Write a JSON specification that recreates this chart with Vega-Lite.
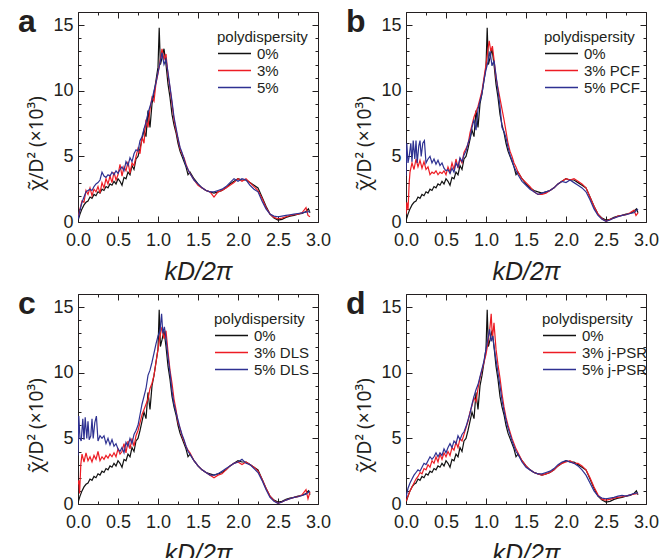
{
"$schema": "https://vega.github.io/schema/vega-lite/v6.json",
"padding": {"left": 17, "top": 5, "right": 0, "bottom": 0},
"background": "white",
"columns": 2,
"spacing": {"row": 2, "column": 13},
"resolve": {"scale": {"color": "independent"}},
"config": {
  "font": "Liberation Sans",
  "view": {"stroke": "#231f20", "strokeWidth": 1},
  "axis": {"grid": false, "domain": false, "labelFlush": false, "labelFont": "Liberation Sans", "titleFont": "Liberation Sans", "labelColor": "#231f20", "titleColor": "#231f20", "tickColor": "#231f20"},
  "legend": {"labelFont": "Liberation Sans", "titleFont": "Liberation Sans", "orient": "none", "legendX": 138, "legendY": 18, "symbolType": "M-2.2,0L2.2,0", "symbolSize": 225, "symbolOffset": 9, "symbolStrokeWidth": 1.5, "labelFontSize": 15, "titleFontSize": 15, "titleFontWeight": "normal", "titleColor": "#231f20", "labelColor": "#231f20", "rowPadding": 0, "labelOffset": 14, "titlePadding": 0, "padding": 0},
  "title": {"font": "Liberation Sans"}
},
"datasets": {
"k0": [{"x":0,"y":0.1},{"x":0.025,"y":0.6},{"x":0.05,"y":1.0},{"x":0.075,"y":1.3},{"x":0.1,"y":1.5},{"x":0.125,"y":1.6},{"x":0.15,"y":1.9},{"x":0.175,"y":1.8},{"x":0.2,"y":2.1},{"x":0.225,"y":2.0},{"x":0.25,"y":2.3},{"x":0.275,"y":2.2},{"x":0.3,"y":2.5},{"x":0.325,"y":2.4},{"x":0.35,"y":2.7},{"x":0.375,"y":2.6},{"x":0.4,"y":2.9},{"x":0.425,"y":2.8},{"x":0.45,"y":3.1},{"x":0.475,"y":2.9},{"x":0.5,"y":3.3},{"x":0.525,"y":3.1},{"x":0.55,"y":2.8},{"x":0.575,"y":3.4},{"x":0.6,"y":3.3},{"x":0.625,"y":3.8},{"x":0.65,"y":3.6},{"x":0.675,"y":4.3},{"x":0.7,"y":4.0},{"x":0.725,"y":4.8},{"x":0.75,"y":5.0},{"x":0.775,"y":5.6},{"x":0.8,"y":6.3},{"x":0.825,"y":7.0},{"x":0.85,"y":6.5},{"x":0.875,"y":8.5},{"x":0.9,"y":7.2},{"x":0.925,"y":9.0},{"x":0.95,"y":9.8},{"x":0.975,"y":10.8},{"x":1.0,"y":11.8},{"x":1.015,"y":14.8},{"x":1.03,"y":12.0},{"x":1.05,"y":12.5},{"x":1.075,"y":13.2},{"x":1.1,"y":12.0},{"x":1.125,"y":10.5},{"x":1.15,"y":9.5},{"x":1.175,"y":8.2},{"x":1.2,"y":7.4},{"x":1.225,"y":6.8},{"x":1.25,"y":6.0},{"x":1.275,"y":5.4},{"x":1.3,"y":5.0},{"x":1.325,"y":4.6},{"x":1.35,"y":4.2},{"x":1.375,"y":3.6},{"x":1.4,"y":3.8},{"x":1.45,"y":3.3},{"x":1.5,"y":2.9},{"x":1.55,"y":2.6},{"x":1.6,"y":2.4},{"x":1.65,"y":2.3},{"x":1.7,"y":2.2},{"x":1.75,"y":2.3},{"x":1.8,"y":2.4},{"x":1.85,"y":2.6},{"x":1.9,"y":2.9},{"x":1.95,"y":3.1},{"x":2.0,"y":3.3},{"x":2.05,"y":3.2},{"x":2.1,"y":3.2},{"x":2.15,"y":3.0},{"x":2.2,"y":2.8},{"x":2.25,"y":2.6},{"x":2.3,"y":1.9},{"x":2.35,"y":1.2},{"x":2.4,"y":0.6},{"x":2.45,"y":0.3},{"x":2.5,"y":0.15},{"x":2.55,"y":0.2},{"x":2.6,"y":0.35},{"x":2.65,"y":0.45},{"x":2.7,"y":0.5},{"x":2.75,"y":0.6},{"x":2.8,"y":0.65},{"x":2.85,"y":0.8},{"x":2.88,"y":1.0},{"x":2.9,"y":0.7}],
"a3": [{"x":0,"y":0.3},{"x":0.025,"y":1.0},{"x":0.05,"y":1.6},{"x":0.075,"y":1.5},{"x":0.1,"y":2.4},{"x":0.125,"y":2.1},{"x":0.15,"y":2.6},{"x":0.175,"y":2.0},{"x":0.2,"y":2.5},{"x":0.225,"y":2.3},{"x":0.25,"y":2.7},{"x":0.275,"y":2.2},{"x":0.3,"y":3.0},{"x":0.325,"y":2.6},{"x":0.35,"y":3.3},{"x":0.375,"y":2.9},{"x":0.4,"y":3.5},{"x":0.425,"y":3.0},{"x":0.45,"y":3.8},{"x":0.475,"y":3.2},{"x":0.5,"y":3.6},{"x":0.525,"y":4.4},{"x":0.55,"y":3.5},{"x":0.575,"y":4.2},{"x":0.6,"y":3.9},{"x":0.625,"y":4.6},{"x":0.65,"y":3.7},{"x":0.675,"y":4.5},{"x":0.7,"y":4.3},{"x":0.725,"y":5.0},{"x":0.75,"y":5.6},{"x":0.775,"y":5.2},{"x":0.8,"y":6.5},{"x":0.825,"y":6.0},{"x":0.85,"y":7.8},{"x":0.875,"y":7.2},{"x":0.9,"y":8.6},{"x":0.925,"y":9.5},{"x":0.95,"y":9.2},{"x":0.975,"y":10.6},{"x":1.0,"y":11.3},{"x":1.025,"y":12.2},{"x":1.05,"y":13.2},{"x":1.075,"y":12.4},{"x":1.1,"y":12.8},{"x":1.125,"y":11.2},{"x":1.15,"y":10.2},{"x":1.175,"y":9.0},{"x":1.2,"y":7.8},{"x":1.225,"y":7.0},{"x":1.25,"y":6.3},{"x":1.275,"y":5.6},{"x":1.3,"y":5.2},{"x":1.325,"y":4.9},{"x":1.35,"y":4.4},{"x":1.375,"y":4.0},{"x":1.4,"y":3.7},{"x":1.45,"y":3.2},{"x":1.5,"y":2.8},{"x":1.55,"y":2.6},{"x":1.6,"y":2.4},{"x":1.65,"y":2.3},{"x":1.7,"y":1.9},{"x":1.75,"y":2.3},{"x":1.8,"y":2.4},{"x":1.85,"y":2.6},{"x":1.9,"y":2.8},{"x":1.95,"y":3.0},{"x":2.0,"y":3.3},{"x":2.05,"y":3.1},{"x":2.1,"y":3.3},{"x":2.15,"y":3.0},{"x":2.2,"y":2.7},{"x":2.25,"y":2.4},{"x":2.3,"y":1.8},{"x":2.35,"y":1.1},{"x":2.4,"y":0.6},{"x":2.45,"y":0.35},{"x":2.5,"y":0.25},{"x":2.55,"y":0.3},{"x":2.6,"y":0.4},{"x":2.65,"y":0.5},{"x":2.7,"y":0.55},{"x":2.75,"y":0.6},{"x":2.8,"y":0.7},{"x":2.85,"y":1.1},{"x":2.875,"y":0.5},{"x":2.9,"y":0.4}],
"a5": [{"x":0,"y":0.2},{"x":0.025,"y":0.9},{"x":0.05,"y":1.5},{"x":0.075,"y":1.9},{"x":0.1,"y":2.3},{"x":0.125,"y":2.4},{"x":0.15,"y":2.5},{"x":0.175,"y":2.4},{"x":0.2,"y":2.7},{"x":0.225,"y":2.9},{"x":0.25,"y":3.0},{"x":0.275,"y":3.2},{"x":0.3,"y":3.8},{"x":0.325,"y":3.5},{"x":0.35,"y":3.4},{"x":0.375,"y":3.6},{"x":0.4,"y":3.5},{"x":0.425,"y":3.8},{"x":0.45,"y":3.6},{"x":0.475,"y":3.9},{"x":0.5,"y":3.7},{"x":0.525,"y":4.0},{"x":0.55,"y":4.2},{"x":0.575,"y":3.9},{"x":0.6,"y":4.6},{"x":0.625,"y":4.3},{"x":0.65,"y":4.9},{"x":0.675,"y":4.6},{"x":0.7,"y":5.2},{"x":0.725,"y":5.5},{"x":0.75,"y":5.4},{"x":0.775,"y":6.2},{"x":0.8,"y":6.5},{"x":0.825,"y":7.1},{"x":0.85,"y":7.6},{"x":0.875,"y":8.3},{"x":0.9,"y":8.8},{"x":0.925,"y":9.3},{"x":0.95,"y":10.0},{"x":0.975,"y":10.6},{"x":1.0,"y":11.4},{"x":1.025,"y":12.1},{"x":1.05,"y":12.9},{"x":1.075,"y":12.0},{"x":1.1,"y":12.4},{"x":1.125,"y":11.4},{"x":1.15,"y":10.3},{"x":1.175,"y":9.2},{"x":1.2,"y":8.0},{"x":1.225,"y":7.2},{"x":1.25,"y":6.4},{"x":1.275,"y":5.7},{"x":1.3,"y":5.3},{"x":1.325,"y":4.8},{"x":1.35,"y":4.3},{"x":1.375,"y":4.0},{"x":1.4,"y":3.7},{"x":1.45,"y":3.2},{"x":1.5,"y":2.9},{"x":1.55,"y":2.6},{"x":1.6,"y":2.4},{"x":1.65,"y":2.3},{"x":1.7,"y":2.3},{"x":1.75,"y":2.4},{"x":1.8,"y":2.5},{"x":1.85,"y":2.7},{"x":1.9,"y":3.0},{"x":1.95,"y":3.3},{"x":2.0,"y":3.1},{"x":2.05,"y":3.3},{"x":2.1,"y":3.2},{"x":2.15,"y":2.8},{"x":2.2,"y":2.5},{"x":2.25,"y":2.3},{"x":2.3,"y":1.6},{"x":2.35,"y":1.0},{"x":2.4,"y":0.6},{"x":2.45,"y":0.45},{"x":2.5,"y":0.4},{"x":2.55,"y":0.45},{"x":2.6,"y":0.5},{"x":2.65,"y":0.55},{"x":2.7,"y":0.6},{"x":2.75,"y":0.65},{"x":2.8,"y":0.7},{"x":2.85,"y":0.75},{"x":2.9,"y":0.8}],
"b3": [{"x":0,"y":0.6},{"x":0.01,"y":1.5},{"x":0.025,"y":0.9},{"x":0.04,"y":3.0},{"x":0.05,"y":3.8},{"x":0.075,"y":4.5},{"x":0.1,"y":4.0},{"x":0.125,"y":4.8},{"x":0.15,"y":4.2},{"x":0.175,"y":4.7},{"x":0.2,"y":4.1},{"x":0.225,"y":4.6},{"x":0.25,"y":4.0},{"x":0.275,"y":4.2},{"x":0.3,"y":3.6},{"x":0.325,"y":3.8},{"x":0.35,"y":3.7},{"x":0.375,"y":3.9},{"x":0.4,"y":3.6},{"x":0.425,"y":3.8},{"x":0.45,"y":3.7},{"x":0.475,"y":3.9},{"x":0.5,"y":3.6},{"x":0.525,"y":4.2},{"x":0.55,"y":3.8},{"x":0.575,"y":4.5},{"x":0.6,"y":4.0},{"x":0.625,"y":4.8},{"x":0.65,"y":4.1},{"x":0.675,"y":4.8},{"x":0.7,"y":4.5},{"x":0.725,"y":5.3},{"x":0.75,"y":5.6},{"x":0.775,"y":5.9},{"x":0.8,"y":6.8},{"x":0.825,"y":7.4},{"x":0.85,"y":8.0},{"x":0.875,"y":8.4},{"x":0.9,"y":8.8},{"x":0.925,"y":9.4},{"x":0.95,"y":10.0},{"x":0.975,"y":11.0},{"x":1.0,"y":12.0},{"x":1.025,"y":13.2},{"x":1.04,"y":13.8},{"x":1.06,"y":13.0},{"x":1.08,"y":13.4},{"x":1.1,"y":12.4},{"x":1.125,"y":11.0},{"x":1.15,"y":10.2},{"x":1.175,"y":9.4},{"x":1.2,"y":8.6},{"x":1.225,"y":7.8},{"x":1.25,"y":6.9},{"x":1.275,"y":6.0},{"x":1.3,"y":5.4},{"x":1.325,"y":5.0},{"x":1.35,"y":4.5},{"x":1.375,"y":4.2},{"x":1.4,"y":3.8},{"x":1.45,"y":3.3},{"x":1.5,"y":3.0},{"x":1.55,"y":2.7},{"x":1.6,"y":2.3},{"x":1.65,"y":2.1},{"x":1.7,"y":2.1},{"x":1.75,"y":2.2},{"x":1.8,"y":2.4},{"x":1.85,"y":2.6},{"x":1.9,"y":2.9},{"x":1.95,"y":3.1},{"x":2.0,"y":3.3},{"x":2.05,"y":3.2},{"x":2.1,"y":3.3},{"x":2.15,"y":3.1},{"x":2.2,"y":2.9},{"x":2.25,"y":2.6},{"x":2.3,"y":1.9},{"x":2.35,"y":1.2},{"x":2.4,"y":0.6},{"x":2.45,"y":0.25},{"x":2.5,"y":0.05},{"x":2.55,"y":0.2},{"x":2.6,"y":0.3},{"x":2.65,"y":0.45},{"x":2.7,"y":0.5},{"x":2.75,"y":0.55},{"x":2.8,"y":0.7},{"x":2.85,"y":0.9},{"x":2.875,"y":0.5},{"x":2.9,"y":0.7}],
"b5": [{"x":0,"y":3.5},{"x":0.01,"y":6.0},{"x":0.025,"y":4.5},{"x":0.04,"y":5.0},{"x":0.06,"y":6.0},{"x":0.075,"y":4.6},{"x":0.09,"y":6.2},{"x":0.11,"y":4.8},{"x":0.125,"y":6.2},{"x":0.14,"y":4.5},{"x":0.16,"y":5.8},{"x":0.175,"y":6.2},{"x":0.19,"y":5.0},{"x":0.21,"y":6.0},{"x":0.23,"y":6.2},{"x":0.25,"y":4.5},{"x":0.275,"y":4.8},{"x":0.3,"y":5.0},{"x":0.325,"y":4.5},{"x":0.35,"y":4.8},{"x":0.375,"y":4.4},{"x":0.4,"y":4.7},{"x":0.425,"y":4.3},{"x":0.45,"y":4.5},{"x":0.475,"y":4.1},{"x":0.5,"y":3.9},{"x":0.525,"y":4.0},{"x":0.55,"y":3.7},{"x":0.575,"y":4.1},{"x":0.6,"y":3.8},{"x":0.625,"y":4.5},{"x":0.65,"y":4.2},{"x":0.675,"y":4.9},{"x":0.7,"y":4.6},{"x":0.725,"y":5.1},{"x":0.75,"y":5.4},{"x":0.775,"y":6.0},{"x":0.8,"y":6.4},{"x":0.825,"y":7.2},{"x":0.85,"y":7.8},{"x":0.875,"y":7.0},{"x":0.9,"y":8.6},{"x":0.925,"y":9.2},{"x":0.95,"y":9.8},{"x":0.975,"y":10.8},{"x":1.0,"y":11.6},{"x":1.025,"y":12.2},{"x":1.05,"y":13.0},{"x":1.075,"y":11.9},{"x":1.1,"y":12.3},{"x":1.125,"y":11.2},{"x":1.15,"y":10.0},{"x":1.175,"y":8.8},{"x":1.2,"y":7.2},{"x":1.225,"y":6.9},{"x":1.25,"y":6.4},{"x":1.275,"y":5.7},{"x":1.3,"y":5.1},{"x":1.325,"y":4.7},{"x":1.35,"y":4.2},{"x":1.375,"y":3.9},{"x":1.4,"y":3.6},{"x":1.45,"y":3.1},{"x":1.5,"y":2.8},{"x":1.55,"y":2.5},{"x":1.6,"y":2.3},{"x":1.65,"y":2.1},{"x":1.7,"y":2.2},{"x":1.75,"y":2.3},{"x":1.8,"y":2.4},{"x":1.85,"y":2.6},{"x":1.9,"y":2.9},{"x":1.95,"y":3.1},{"x":2.0,"y":3.0},{"x":2.05,"y":3.2},{"x":2.1,"y":3.0},{"x":2.15,"y":2.8},{"x":2.2,"y":2.6},{"x":2.25,"y":2.3},{"x":2.3,"y":1.7},{"x":2.35,"y":1.0},{"x":2.4,"y":0.5},{"x":2.45,"y":0.2},{"x":2.5,"y":0.05},{"x":2.55,"y":0.15},{"x":2.6,"y":0.3},{"x":2.65,"y":0.4},{"x":2.7,"y":0.5},{"x":2.75,"y":0.55},{"x":2.8,"y":0.65},{"x":2.85,"y":0.7},{"x":2.9,"y":1.0}],
"c3": [{"x":0,"y":1.5},{"x":0.01,"y":1.8},{"x":0.02,"y":0.8},{"x":0.035,"y":3.0},{"x":0.05,"y":3.8},{"x":0.075,"y":3.2},{"x":0.1,"y":3.9},{"x":0.125,"y":3.3},{"x":0.15,"y":3.6},{"x":0.175,"y":3.2},{"x":0.2,"y":3.7},{"x":0.225,"y":3.4},{"x":0.25,"y":4.0},{"x":0.275,"y":3.3},{"x":0.3,"y":3.6},{"x":0.325,"y":3.4},{"x":0.35,"y":3.7},{"x":0.375,"y":3.5},{"x":0.4,"y":3.8},{"x":0.425,"y":3.6},{"x":0.45,"y":3.9},{"x":0.475,"y":3.6},{"x":0.5,"y":4.2},{"x":0.525,"y":3.8},{"x":0.55,"y":4.0},{"x":0.575,"y":4.6},{"x":0.6,"y":3.9},{"x":0.625,"y":4.8},{"x":0.65,"y":4.2},{"x":0.675,"y":5.0},{"x":0.7,"y":4.4},{"x":0.725,"y":5.2},{"x":0.75,"y":5.6},{"x":0.775,"y":6.2},{"x":0.8,"y":6.8},{"x":0.825,"y":7.2},{"x":0.85,"y":7.6},{"x":0.875,"y":8.0},{"x":0.9,"y":8.8},{"x":0.925,"y":9.2},{"x":0.95,"y":9.8},{"x":0.975,"y":10.8},{"x":1.0,"y":11.8},{"x":1.025,"y":12.8},{"x":1.05,"y":13.5},{"x":1.075,"y":12.6},{"x":1.1,"y":13.2},{"x":1.125,"y":11.6},{"x":1.15,"y":10.2},{"x":1.175,"y":9.2},{"x":1.2,"y":8.0},{"x":1.225,"y":7.2},{"x":1.25,"y":6.2},{"x":1.275,"y":5.8},{"x":1.3,"y":5.2},{"x":1.325,"y":4.8},{"x":1.35,"y":4.4},{"x":1.375,"y":4.1},{"x":1.4,"y":3.9},{"x":1.45,"y":3.3},{"x":1.5,"y":2.9},{"x":1.55,"y":2.6},{"x":1.6,"y":2.4},{"x":1.65,"y":2.2},{"x":1.7,"y":2.0},{"x":1.75,"y":2.2},{"x":1.8,"y":2.3},{"x":1.85,"y":2.6},{"x":1.9,"y":2.9},{"x":1.95,"y":3.1},{"x":2.0,"y":3.2},{"x":2.05,"y":3.0},{"x":2.1,"y":3.2},{"x":2.15,"y":3.0},{"x":2.2,"y":2.8},{"x":2.25,"y":2.5},{"x":2.3,"y":1.9},{"x":2.35,"y":1.2},{"x":2.4,"y":0.6},{"x":2.45,"y":0.25},{"x":2.5,"y":0.05},{"x":2.55,"y":0.15},{"x":2.6,"y":0.3},{"x":2.65,"y":0.4},{"x":2.7,"y":0.5},{"x":2.75,"y":0.55},{"x":2.8,"y":0.7},{"x":2.85,"y":1.1},{"x":2.875,"y":0.4},{"x":2.9,"y":0.9}],
"c5": [{"x":0,"y":3.7},{"x":0.01,"y":6.7},{"x":0.025,"y":5.0},{"x":0.04,"y":4.8},{"x":0.06,"y":6.5},{"x":0.075,"y":4.9},{"x":0.09,"y":6.6},{"x":0.11,"y":5.0},{"x":0.125,"y":6.3},{"x":0.14,"y":4.9},{"x":0.16,"y":5.2},{"x":0.175,"y":6.5},{"x":0.19,"y":5.0},{"x":0.21,"y":6.2},{"x":0.23,"y":6.7},{"x":0.25,"y":4.8},{"x":0.275,"y":5.2},{"x":0.3,"y":5.0},{"x":0.325,"y":5.2},{"x":0.35,"y":4.6},{"x":0.375,"y":5.0},{"x":0.4,"y":4.5},{"x":0.425,"y":4.9},{"x":0.45,"y":4.4},{"x":0.475,"y":4.6},{"x":0.5,"y":4.2},{"x":0.525,"y":4.0},{"x":0.55,"y":4.3},{"x":0.575,"y":3.9},{"x":0.6,"y":4.7},{"x":0.625,"y":4.4},{"x":0.65,"y":5.0},{"x":0.675,"y":4.6},{"x":0.7,"y":5.3},{"x":0.725,"y":5.6},{"x":0.75,"y":6.0},{"x":0.775,"y":6.8},{"x":0.8,"y":7.6},{"x":0.825,"y":8.2},{"x":0.85,"y":8.8},{"x":0.875,"y":9.8},{"x":0.9,"y":10.2},{"x":0.925,"y":10.8},{"x":0.95,"y":11.5},{"x":0.975,"y":12.2},{"x":1.0,"y":12.8},{"x":1.025,"y":13.2},{"x":1.045,"y":14.5},{"x":1.06,"y":13.0},{"x":1.08,"y":13.5},{"x":1.1,"y":12.6},{"x":1.125,"y":11.2},{"x":1.15,"y":10.0},{"x":1.175,"y":8.6},{"x":1.2,"y":7.6},{"x":1.225,"y":7.0},{"x":1.25,"y":6.4},{"x":1.275,"y":5.8},{"x":1.3,"y":5.3},{"x":1.325,"y":4.9},{"x":1.35,"y":4.4},{"x":1.375,"y":4.0},{"x":1.4,"y":3.8},{"x":1.45,"y":3.3},{"x":1.5,"y":2.9},{"x":1.55,"y":2.6},{"x":1.6,"y":2.4},{"x":1.65,"y":2.2},{"x":1.7,"y":2.2},{"x":1.75,"y":2.3},{"x":1.8,"y":2.5},{"x":1.85,"y":2.7},{"x":1.9,"y":2.9},{"x":1.95,"y":3.1},{"x":2.0,"y":3.2},{"x":2.05,"y":3.4},{"x":2.1,"y":3.1},{"x":2.15,"y":3.0},{"x":2.2,"y":2.7},{"x":2.25,"y":2.4},{"x":2.3,"y":1.8},{"x":2.35,"y":1.1},{"x":2.4,"y":0.5},{"x":2.45,"y":0.2},{"x":2.5,"y":0.05},{"x":2.55,"y":0.15},{"x":2.6,"y":0.3},{"x":2.65,"y":0.4},{"x":2.7,"y":0.5},{"x":2.75,"y":0.55},{"x":2.8,"y":0.65},{"x":2.85,"y":0.75},{"x":2.9,"y":1.0}],
"d3": [{"x":0,"y":0.2},{"x":0.025,"y":0.6},{"x":0.05,"y":1.0},{"x":0.075,"y":1.3},{"x":0.1,"y":1.6},{"x":0.125,"y":1.9},{"x":0.15,"y":2.1},{"x":0.175,"y":2.4},{"x":0.2,"y":2.3},{"x":0.225,"y":2.7},{"x":0.25,"y":2.6},{"x":0.275,"y":3.0},{"x":0.3,"y":2.8},{"x":0.325,"y":3.3},{"x":0.35,"y":3.1},{"x":0.375,"y":3.6},{"x":0.4,"y":3.2},{"x":0.425,"y":3.8},{"x":0.45,"y":3.4},{"x":0.475,"y":3.9},{"x":0.5,"y":3.6},{"x":0.525,"y":4.0},{"x":0.55,"y":3.7},{"x":0.575,"y":4.3},{"x":0.6,"y":4.1},{"x":0.625,"y":4.7},{"x":0.65,"y":4.3},{"x":0.675,"y":5.0},{"x":0.7,"y":4.8},{"x":0.725,"y":5.3},{"x":0.75,"y":5.8},{"x":0.775,"y":6.3},{"x":0.8,"y":7.0},{"x":0.825,"y":7.5},{"x":0.85,"y":8.1},{"x":0.875,"y":7.8},{"x":0.9,"y":8.8},{"x":0.925,"y":9.6},{"x":0.95,"y":10.2},{"x":0.975,"y":10.8},{"x":1.0,"y":11.4},{"x":1.025,"y":12.3},{"x":1.05,"y":13.5},{"x":1.065,"y":14.5},{"x":1.08,"y":12.6},{"x":1.1,"y":13.8},{"x":1.125,"y":11.8},{"x":1.15,"y":10.6},{"x":1.175,"y":9.6},{"x":1.2,"y":8.4},{"x":1.225,"y":7.4},{"x":1.25,"y":6.6},{"x":1.275,"y":6.0},{"x":1.3,"y":5.5},{"x":1.325,"y":5.0},{"x":1.35,"y":4.6},{"x":1.375,"y":4.2},{"x":1.4,"y":3.9},{"x":1.45,"y":3.3},{"x":1.5,"y":2.9},{"x":1.55,"y":2.6},{"x":1.6,"y":2.4},{"x":1.65,"y":2.3},{"x":1.7,"y":2.2},{"x":1.75,"y":2.3},{"x":1.8,"y":2.4},{"x":1.85,"y":2.6},{"x":1.9,"y":2.9},{"x":1.95,"y":3.1},{"x":2.0,"y":3.2},{"x":2.05,"y":3.3},{"x":2.1,"y":3.1},{"x":2.15,"y":3.1},{"x":2.2,"y":2.9},{"x":2.25,"y":2.6},{"x":2.3,"y":2.0},{"x":2.35,"y":1.3},{"x":2.4,"y":0.7},{"x":2.45,"y":0.35},{"x":2.5,"y":0.3},{"x":2.55,"y":0.35},{"x":2.6,"y":0.45},{"x":2.65,"y":0.5},{"x":2.7,"y":0.55},{"x":2.75,"y":0.6},{"x":2.8,"y":0.7},{"x":2.85,"y":0.75},{"x":2.9,"y":0.8}],
"d5": [{"x":0,"y":0.5},{"x":0.025,"y":1.2},{"x":0.05,"y":1.6},{"x":0.075,"y":1.9},{"x":0.1,"y":2.2},{"x":0.125,"y":2.4},{"x":0.15,"y":2.6},{"x":0.175,"y":2.5},{"x":0.2,"y":2.8},{"x":0.225,"y":3.1},{"x":0.25,"y":3.0},{"x":0.275,"y":3.3},{"x":0.3,"y":3.6},{"x":0.325,"y":3.4},{"x":0.35,"y":3.6},{"x":0.375,"y":3.9},{"x":0.4,"y":3.6},{"x":0.425,"y":3.9},{"x":0.45,"y":3.7},{"x":0.475,"y":4.2},{"x":0.5,"y":3.9},{"x":0.525,"y":4.3},{"x":0.55,"y":4.6},{"x":0.575,"y":4.3},{"x":0.6,"y":4.8},{"x":0.625,"y":4.6},{"x":0.65,"y":5.2},{"x":0.675,"y":4.9},{"x":0.7,"y":5.3},{"x":0.725,"y":5.5},{"x":0.75,"y":5.9},{"x":0.775,"y":6.4},{"x":0.8,"y":6.9},{"x":0.825,"y":7.6},{"x":0.85,"y":8.2},{"x":0.875,"y":8.7},{"x":0.9,"y":9.1},{"x":0.925,"y":9.7},{"x":0.95,"y":10.3},{"x":0.975,"y":10.9},{"x":1.0,"y":11.8},{"x":1.025,"y":12.6},{"x":1.045,"y":13.3},{"x":1.065,"y":12.4},{"x":1.085,"y":12.8},{"x":1.1,"y":12.0},{"x":1.125,"y":11.0},{"x":1.15,"y":10.0},{"x":1.175,"y":9.0},{"x":1.2,"y":7.9},{"x":1.225,"y":7.1},{"x":1.25,"y":6.4},{"x":1.275,"y":5.8},{"x":1.3,"y":5.3},{"x":1.325,"y":4.8},{"x":1.35,"y":4.4},{"x":1.375,"y":4.0},{"x":1.4,"y":3.8},{"x":1.45,"y":3.2},{"x":1.5,"y":2.8},{"x":1.55,"y":2.6},{"x":1.6,"y":2.4},{"x":1.65,"y":2.3},{"x":1.7,"y":2.3},{"x":1.75,"y":2.4},{"x":1.8,"y":2.5},{"x":1.85,"y":2.7},{"x":1.9,"y":3.0},{"x":1.95,"y":3.2},{"x":2.0,"y":3.3},{"x":2.05,"y":3.2},{"x":2.1,"y":3.1},{"x":2.15,"y":2.9},{"x":2.2,"y":2.6},{"x":2.25,"y":2.2},{"x":2.3,"y":1.6},{"x":2.35,"y":1.0},{"x":2.4,"y":0.6},{"x":2.45,"y":0.45},{"x":2.5,"y":0.4},{"x":2.55,"y":0.45},{"x":2.6,"y":0.5},{"x":2.65,"y":0.6},{"x":2.7,"y":0.65},{"x":2.75,"y":0.6},{"x":2.8,"y":0.7},{"x":2.85,"y":0.8},{"x":2.9,"y":0.85}]
},
"concat": [
{"width": 240, "height": 210,
 "title": {"text": "a", "orient": "top", "anchor": "start", "frame": "bounds", "fontSize": 32, "fontWeight": "bold", "color": "#231f20", "offset": -27, "dx": -10},
 "resolve": {"axis": {"x": "independent", "y": "independent"}},
 "layer": [
  {"data": {"name": "k0"}, "mark": {"type": "line", "strokeWidth": 1.2, "clip": true},
   "encoding": {
    "x": {"field": "x", "type": "quantitative", "scale": {"domain": [0, 3]}, "axis": {"values": [0,0.25,0.5,0.75,1,1.25,1.5,1.75,2,2.25,2.5,2.75,3], "labelExpr": "datum.value % 0.5 === 0 ? format(datum.value, '.1f') : ''", "tickSize": {"condition": {"test": "datum.value % 0.5 === 0", "value": -6}, "value": -3}, "labelPadding": 15, "labelFontSize": 18, "title": "kD/2π", "titleFontSize": 25, "titleFontStyle": "italic", "titleFontWeight": "normal", "titlePadding": 10}},
    "y": {"field": "y", "type": "quantitative", "scale": {"domain": [0, 16]}, "axis": {"values": [0,1,2,3,4,5,6,7,8,9,10,11,12,13,14,15,16], "labelExpr": "datum.value % 5 === 0 ? datum.value : ''", "tickSize": {"condition": {"test": "datum.value % 5 === 0", "value": -6}, "value": -3}, "labelPadding": 11, "labelFontSize": 18, "title": "χ̃/D² (×10³)", "titleFont": "Noto Sans", "titleFontSize": 19, "titleFontWeight": "normal", "titlePadding": 6, "titleY": 131}},
    "color": {"datum": "0%", "scale": {"domain": ["0%", "3%", "5%"], "range": ["#111111", "#ed1c24", "#2e3192"]}, "legend": {"title": "polydispersity", "legendX": 139}}}},
  {"data": {"name": "a3"}, "mark": {"type": "line", "strokeWidth": 1.2, "clip": true},
   "encoding": {"x": {"field": "x", "type": "quantitative", "axis": null}, "y": {"field": "y", "type": "quantitative", "axis": null}, "color": {"datum": "3%"}}},
  {"data": {"name": "a5"}, "mark": {"type": "line", "strokeWidth": 1.2, "clip": true},
   "encoding": {"x": {"field": "x", "type": "quantitative", "axis": {"orient": "top", "values": [0,0.25,0.5,0.75,1,1.25,1.5,1.75,2,2.25,2.5,2.75,3], "labels": false, "title": null, "tickSize": {"condition": {"test": "datum.value % 0.5 === 0", "value": -6}, "value": -3}}}, "y": {"field": "y", "type": "quantitative", "axis": {"orient": "right", "values": [0,1,2,3,4,5,6,7,8,9,10,11,12,13,14,15,16], "labels": false, "title": null, "tickSize": {"condition": {"test": "datum.value % 5 === 0", "value": -6}, "value": -3}}}, "color": {"datum": "5%"}}}
 ]},
{"width": 240, "height": 210,
 "title": {"text": "b", "orient": "top", "anchor": "start", "frame": "bounds", "fontSize": 32, "fontWeight": "bold", "color": "#231f20", "offset": -27, "dx": -10},
 "resolve": {"axis": {"x": "independent", "y": "independent"}},
 "layer": [
  {"data": {"name": "k0"}, "mark": {"type": "line", "strokeWidth": 1.2, "clip": true},
   "encoding": {
    "x": {"field": "x", "type": "quantitative", "scale": {"domain": [0, 3]}, "axis": {"values": [0,0.25,0.5,0.75,1,1.25,1.5,1.75,2,2.25,2.5,2.75,3], "labelExpr": "datum.value % 0.5 === 0 ? format(datum.value, '.1f') : ''", "tickSize": {"condition": {"test": "datum.value % 0.5 === 0", "value": -6}, "value": -3}, "labelPadding": 15, "labelFontSize": 18, "title": "kD/2π", "titleFontSize": 25, "titleFontStyle": "italic", "titleFontWeight": "normal", "titlePadding": 10}},
    "y": {"field": "y", "type": "quantitative", "scale": {"domain": [0, 16]}, "axis": {"values": [0,1,2,3,4,5,6,7,8,9,10,11,12,13,14,15,16], "labelExpr": "datum.value % 5 === 0 ? datum.value : ''", "tickSize": {"condition": {"test": "datum.value % 5 === 0", "value": -6}, "value": -3}, "labelPadding": 11, "labelFontSize": 18, "title": "χ̃/D² (×10³)", "titleFont": "Noto Sans", "titleFontSize": 19, "titleFontWeight": "normal", "titlePadding": 6, "titleY": 131}},
    "color": {"datum": "0%", "scale": {"domain": ["0%", "3% PCF", "5% PCF"], "range": ["#111111", "#ed1c24", "#2e3192"]}, "legend": {"title": "polydispersity"}}}},
  {"data": {"name": "b3"}, "mark": {"type": "line", "strokeWidth": 1.2, "clip": true},
   "encoding": {"x": {"field": "x", "type": "quantitative", "axis": null}, "y": {"field": "y", "type": "quantitative", "axis": null}, "color": {"datum": "3% PCF"}}},
  {"data": {"name": "b5"}, "mark": {"type": "line", "strokeWidth": 1.2, "clip": true},
   "encoding": {"x": {"field": "x", "type": "quantitative", "axis": {"orient": "top", "values": [0,0.25,0.5,0.75,1,1.25,1.5,1.75,2,2.25,2.5,2.75,3], "labels": false, "title": null, "tickSize": {"condition": {"test": "datum.value % 0.5 === 0", "value": -6}, "value": -3}}}, "y": {"field": "y", "type": "quantitative", "axis": {"orient": "right", "values": [0,1,2,3,4,5,6,7,8,9,10,11,12,13,14,15,16], "labels": false, "title": null, "tickSize": {"condition": {"test": "datum.value % 5 === 0", "value": -6}, "value": -3}}}, "color": {"datum": "5% PCF"}}}
 ]},
{"width": 240, "height": 210,
 "title": {"text": "c", "orient": "top", "anchor": "start", "frame": "bounds", "fontSize": 32, "fontWeight": "bold", "color": "#231f20", "offset": -27, "dx": -10},
 "resolve": {"axis": {"x": "independent", "y": "independent"}},
 "layer": [
  {"data": {"name": "k0"}, "mark": {"type": "line", "strokeWidth": 1.2, "clip": true},
   "encoding": {
    "x": {"field": "x", "type": "quantitative", "scale": {"domain": [0, 3]}, "axis": {"values": [0,0.25,0.5,0.75,1,1.25,1.5,1.75,2,2.25,2.5,2.75,3], "labelExpr": "datum.value % 0.5 === 0 ? format(datum.value, '.1f') : ''", "tickSize": {"condition": {"test": "datum.value % 0.5 === 0", "value": -6}, "value": -3}, "labelPadding": 15, "labelFontSize": 18, "title": "kD/2π", "titleFontSize": 25, "titleFontStyle": "italic", "titleFontWeight": "normal", "titlePadding": 10}},
    "y": {"field": "y", "type": "quantitative", "scale": {"domain": [0, 16]}, "axis": {"values": [0,1,2,3,4,5,6,7,8,9,10,11,12,13,14,15,16], "labelExpr": "datum.value % 5 === 0 ? datum.value : ''", "tickSize": {"condition": {"test": "datum.value % 5 === 0", "value": -6}, "value": -3}, "labelPadding": 11, "labelFontSize": 18, "title": "χ̃/D² (×10³)", "titleFont": "Noto Sans", "titleFontSize": 19, "titleFontWeight": "normal", "titlePadding": 6, "titleY": 131}},
    "color": {"datum": "0%", "scale": {"domain": ["0%", "3% DLS", "5% DLS"], "range": ["#111111", "#ed1c24", "#2e3192"]}, "legend": {"title": "polydispersity", "legendX": 136}}}},
  {"data": {"name": "c3"}, "mark": {"type": "line", "strokeWidth": 1.2, "clip": true},
   "encoding": {"x": {"field": "x", "type": "quantitative", "axis": null}, "y": {"field": "y", "type": "quantitative", "axis": null}, "color": {"datum": "3% DLS"}}},
  {"data": {"name": "c5"}, "mark": {"type": "line", "strokeWidth": 1.2, "clip": true},
   "encoding": {"x": {"field": "x", "type": "quantitative", "axis": {"orient": "top", "values": [0,0.25,0.5,0.75,1,1.25,1.5,1.75,2,2.25,2.5,2.75,3], "labels": false, "title": null, "tickSize": {"condition": {"test": "datum.value % 0.5 === 0", "value": -6}, "value": -3}}}, "y": {"field": "y", "type": "quantitative", "axis": {"orient": "right", "values": [0,1,2,3,4,5,6,7,8,9,10,11,12,13,14,15,16], "labels": false, "title": null, "tickSize": {"condition": {"test": "datum.value % 5 === 0", "value": -6}, "value": -3}}}, "color": {"datum": "5% DLS"}}}
 ]},
{"width": 240, "height": 210,
 "title": {"text": "d", "orient": "top", "anchor": "start", "frame": "bounds", "fontSize": 32, "fontWeight": "bold", "color": "#231f20", "offset": -27, "dx": -10},
 "resolve": {"axis": {"x": "independent", "y": "independent"}},
 "layer": [
  {"data": {"name": "k0"}, "mark": {"type": "line", "strokeWidth": 1.2, "clip": true},
   "encoding": {
    "x": {"field": "x", "type": "quantitative", "scale": {"domain": [0, 3]}, "axis": {"values": [0,0.25,0.5,0.75,1,1.25,1.5,1.75,2,2.25,2.5,2.75,3], "labelExpr": "datum.value % 0.5 === 0 ? format(datum.value, '.1f') : ''", "tickSize": {"condition": {"test": "datum.value % 0.5 === 0", "value": -6}, "value": -3}, "labelPadding": 15, "labelFontSize": 18, "title": "kD/2π", "titleFontSize": 25, "titleFontStyle": "italic", "titleFontWeight": "normal", "titlePadding": 10}},
    "y": {"field": "y", "type": "quantitative", "scale": {"domain": [0, 16]}, "axis": {"values": [0,1,2,3,4,5,6,7,8,9,10,11,12,13,14,15,16], "labelExpr": "datum.value % 5 === 0 ? datum.value : ''", "tickSize": {"condition": {"test": "datum.value % 5 === 0", "value": -6}, "value": -3}, "labelPadding": 11, "labelFontSize": 18, "title": "χ̃/D² (×10³)", "titleFont": "Noto Sans", "titleFontSize": 19, "titleFontWeight": "normal", "titlePadding": 6, "titleY": 131}},
    "color": {"datum": "0%", "scale": {"domain": ["0%", "3% j-PSR", "5% j-PSR"], "range": ["#111111", "#ed1c24", "#2e3192"]}, "legend": {"title": "polydispersity", "legendX": 136}}}},
  {"data": {"name": "d3"}, "mark": {"type": "line", "strokeWidth": 1.2, "clip": true},
   "encoding": {"x": {"field": "x", "type": "quantitative", "axis": null}, "y": {"field": "y", "type": "quantitative", "axis": null}, "color": {"datum": "3% j-PSR"}}},
  {"data": {"name": "d5"}, "mark": {"type": "line", "strokeWidth": 1.2, "clip": true},
   "encoding": {"x": {"field": "x", "type": "quantitative", "axis": {"orient": "top", "values": [0,0.25,0.5,0.75,1,1.25,1.5,1.75,2,2.25,2.5,2.75,3], "labels": false, "title": null, "tickSize": {"condition": {"test": "datum.value % 0.5 === 0", "value": -6}, "value": -3}}}, "y": {"field": "y", "type": "quantitative", "axis": {"orient": "right", "values": [0,1,2,3,4,5,6,7,8,9,10,11,12,13,14,15,16], "labels": false, "title": null, "tickSize": {"condition": {"test": "datum.value % 5 === 0", "value": -6}, "value": -3}}}, "color": {"datum": "5% j-PSR"}}}
 ]}
]
}
